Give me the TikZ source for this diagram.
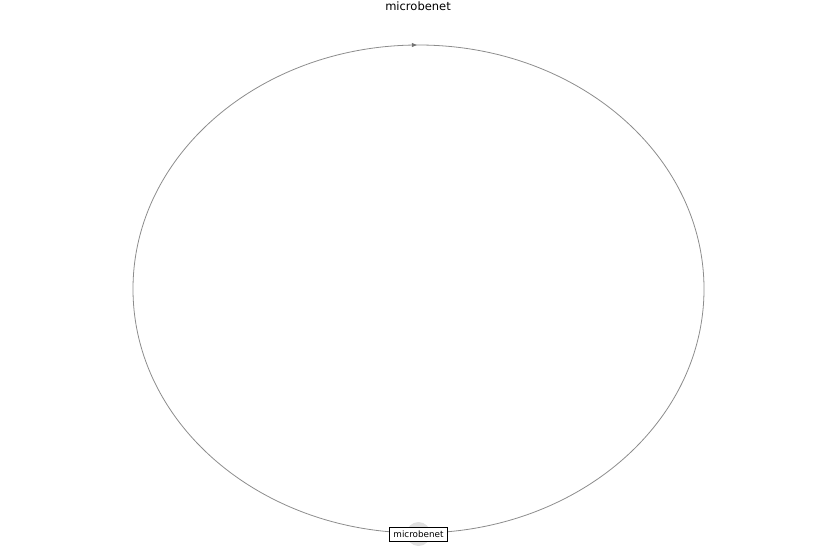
\documentclass[tikz,border=0pt]{standalone}
\usepackage{fontspec}
\setmainfont{DejaVu Sans}
\usetikzlibrary{arrows.meta,decorations.markings}
\begin{document}
\begin{tikzpicture}[x=1pt,y=-1pt,
  edgeline/.style={draw=black!45,line width=0.8pt},
  nodebox/.style={draw=black,fill=white,line width=0.7pt,inner xsep=4pt,inner ysep=3.5pt,font=\fontsize{8.8}{10}\selectfont},
  halo/.style={fill=black!12,draw=none},
  titletext/.style={font=\fontsize{11.5}{13}\selectfont}]
\useasboundingbox (0,0) rectangle (837,559);
\node[titletext] (title) at (418,6) {microbenet};
\fill[halo] (418.5,534) circle (12);
\draw[edgeline,postaction={decorate},decoration={markings,mark=at position 0.749 with {\arrow[black!55]{Triangle[length=5pt,width=4pt]}}}]
  (418.5,289) ellipse [x radius=285.5, y radius=244];
\node[nodebox] (n) at (418.5,534) {microbenet};
\end{tikzpicture}
\end{document}
